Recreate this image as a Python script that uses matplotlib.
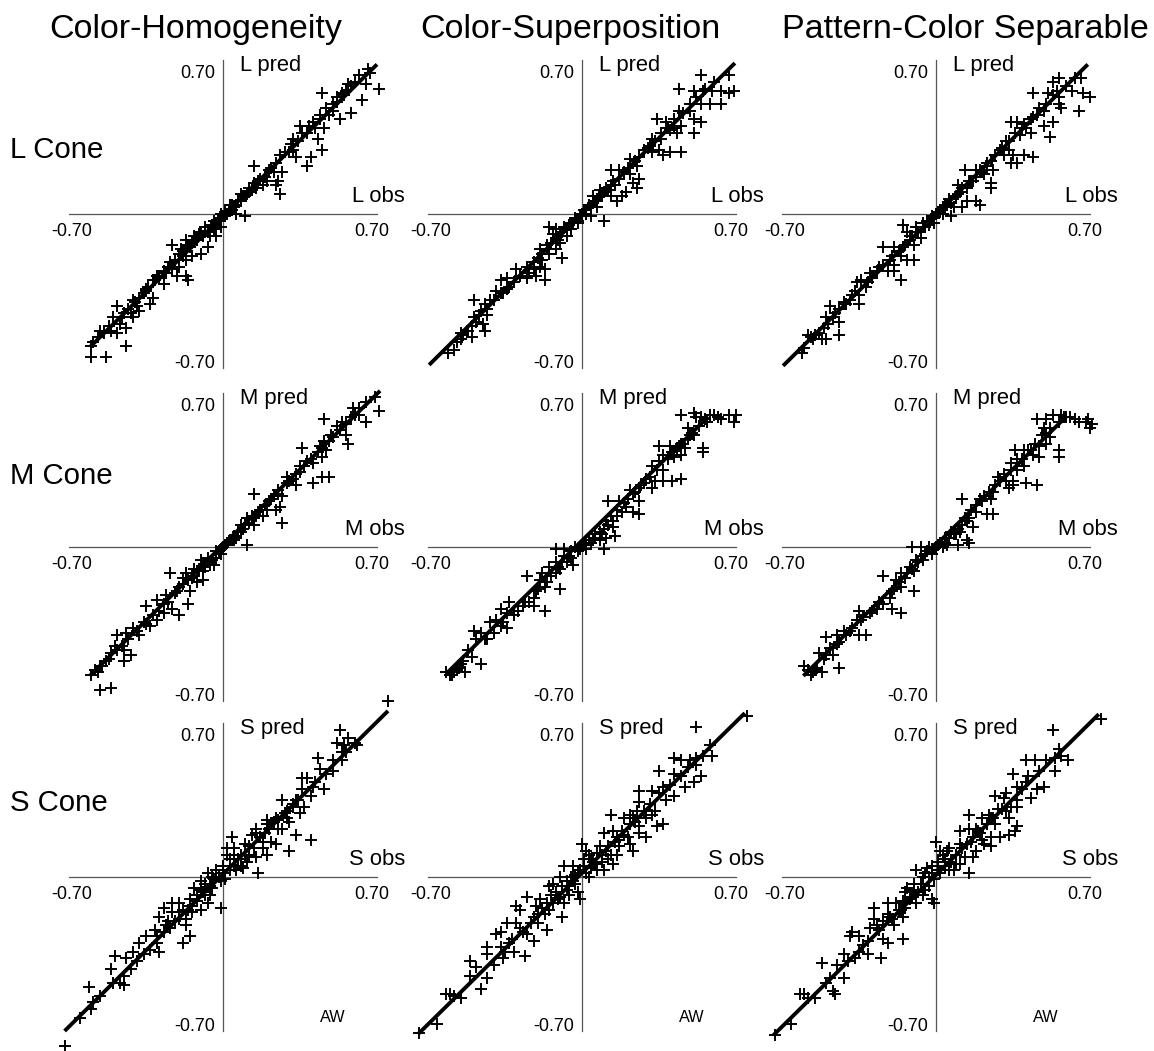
import numpy as np
import matplotlib
matplotlib.use("Agg")
import matplotlib.pyplot as plt

plt.rcParams['font.family'] = ['Liberation Sans', 'DejaVu Sans']

# observed vs predicted cone contrast, one list of (obs, pred) per cone/model
MODELS = ["Color-Homogeneity", "Color-Superposition", "Pattern-Color Separable"]
CONES = ["L", "M", "S"]

l_homog = [
    (0.67, 0.64), (0.65, 0.59), (0.71, 0.57), (0.63, 0.52), (0.57, 0.59), (0.56, 0.56), (0.55, 0.54),
    (0.52, 0.53), (0.45, 0.55), (0.58, 0.46), (0.53, 0.43), (0.50, 0.47), (0.48, 0.45), (0.44, 0.43),
    (0.46, 0.39), (0.42, 0.39), (0.35, 0.40), (0.38, 0.37), (0.43, 0.34), (0.45, 0.29), (0.40, 0.26),
    (0.38, 0.22), (0.32, 0.34), (0.32, 0.29), (0.33, 0.26), (0.30, 0.28), (0.26, 0.27), (0.14, 0.22),
    (0.27, 0.19), (0.25, 0.15), (0.26, 0.09), (0.24, 0.13), (0.20, 0.15), (0.18, 0.13), (0.15, 0.12),
    (0.12, 0.10), (0.10, 0.08), (0.08, 0.09), (0.10, -0.01), (0.06, 0.00), (0.05, 0.03), (0.03, 0.02),
    (0.01, 0.01), (-0.01, -0.02), (-0.03, -0.04), (0.07, 0.06), (0.12, 0.12), (0.16, 0.15), (0.21, 0.20),
    (0.28, 0.28), (0.31, 0.32), (0.36, 0.37), (0.41, 0.42), (0.50, 0.50), (0.54, 0.55), (0.60, 0.60),
    (0.62, 0.63), (0.66, 0.66),
    (-0.01, -0.06), (-0.04, -0.07), (-0.06, -0.10), (-0.03, -0.10), (-0.10, -0.08), (-0.13, -0.10),
    (-0.17, -0.12), (-0.23, -0.14), (-0.19, -0.16), (-0.14, -0.19), (-0.17, -0.21), (-0.10, -0.18),
    (-0.07, -0.15), (-0.20, -0.24), (-0.23, -0.25), (-0.26, -0.27), (-0.30, -0.28), (-0.32, -0.30),
    (-0.27, -0.32), (-0.21, -0.28), (-0.17, -0.28), (-0.16, -0.30), (-0.35, -0.34), (-0.36, -0.36),
    (-0.32, -0.38), (-0.41, -0.39), (-0.39, -0.42), (-0.42, -0.45), (-0.48, -0.42), (-0.50, -0.47),
    (-0.47, -0.50), (-0.44, -0.52), (-0.38, -0.44), (-0.41, -0.47), (-0.33, -0.41), (-0.51, -0.53),
    (-0.54, -0.54), (-0.57, -0.56), (-0.60, -0.60), (-0.59, -0.58), (-0.44, -0.60), (-0.60, -0.65),
    (-0.53, -0.65), (-0.56, -0.53), (-0.48, -0.54), (-0.05, -0.05), (-0.08, -0.08), (-0.12, -0.11),
    (-0.15, -0.15), (-0.18, -0.19), (-0.22, -0.21), (-0.25, -0.24), (-0.29, -0.29), (-0.34, -0.33),
    (-0.38, -0.38), (-0.45, -0.45), (-0.52, -0.51), (-0.02, -0.03), (0.02, 0.00), (0.04, 0.04),
]
l_homog_core = [
    (-0.20, -0.18), (-0.18, -0.17), (-0.16, -0.14), (-0.14, -0.13), (-0.12, -0.12), (-0.11, -0.09),
    (-0.09, -0.10), (-0.08, -0.06), (-0.07, -0.08), (-0.05, -0.06), (-0.04, -0.03), (-0.03, -0.05),
    (-0.01, 0.00), (0.00, -0.01), (0.01, -0.01), (0.03, 0.04), (0.04, 0.02), (0.06, 0.04), (0.08, 0.06),
    (0.09, 0.08), (0.11, 0.09), (0.13, 0.11), (0.14, 0.14), (0.17, 0.16), (0.19, 0.17), (0.22, 0.21),
    (0.24, 0.23), (0.23, 0.19), (-0.24, -0.22), (-0.27, -0.26), (-0.31, -0.30), (-0.35, -0.35),
    (-0.40, -0.40), (-0.43, -0.43), (-0.46, -0.47), (0.34, 0.33), (0.39, 0.40), (0.44, 0.45),
    (0.47, 0.48), (0.52, 0.51), (0.58, 0.58),
]

l_super = [
    (0.54, 0.63), (0.67, 0.63), (0.63, 0.56), (0.69, 0.56), (0.67, 0.55), (0.59, 0.56), (0.55, 0.56),
    (0.51, 0.56), (0.44, 0.57), (0.54, 0.50), (0.63, 0.50), (0.58, 0.50), (0.49, 0.47), (0.44, 0.47),
    (0.51, 0.43), (0.54, 0.42), (0.51, 0.37), (0.45, 0.40), (0.42, 0.39), (0.38, 0.42), (0.34, 0.43),
    (0.40, 0.38), (0.43, 0.37), (0.32, 0.34), (0.36, 0.34), (0.31, 0.31), (0.32, 0.28), (0.37, 0.27),
    (0.35, 0.29), (0.40, 0.28), (0.45, 0.28), (0.26, 0.26), (0.25, 0.22), (0.22, 0.25), (0.13, 0.20),
    (0.17, 0.20), (0.22, 0.18), (0.23, 0.14), (0.25, 0.12), (0.26, 0.16), (0.18, 0.08), (0.16, 0.06),
    (0.20, 0.10), (0.13, 0.08), (0.09, 0.09), (0.08, 0.11), (0.11, 0.12), (0.05, 0.08), (0.07, 0.03),
    (0.10, -0.03), (0.04, -0.01), (0.02, 0.02), (0.00, 0.00), (0.03, 0.04), (0.06, 0.06), (0.14, 0.15),
    (0.19, 0.19), (0.28, 0.29), (0.46, 0.46), (0.52, 0.53), (0.60, 0.60), (0.39, 0.39),
    (-0.02, -0.03), (-0.05, -0.04), (-0.08, -0.06), (-0.12, -0.07), (-0.15, -0.06), (-0.13, -0.09),
    (-0.07, -0.10), (-0.10, -0.13), (-0.16, -0.14), (-0.19, -0.16), (-0.12, -0.16), (-0.09, -0.20),
    (-0.15, -0.18), (-0.18, -0.21), (-0.19, -0.24), (-0.22, -0.25), (-0.24, -0.27), (-0.17, -0.25),
    (-0.17, -0.30), (-0.21, -0.28), (-0.25, -0.29), (-0.30, -0.25), (-0.34, -0.29), (-0.37, -0.30),
    (-0.33, -0.33), (-0.36, -0.36), (-0.39, -0.35), (-0.42, -0.39), (-0.44, -0.41), (-0.46, -0.44),
    (-0.43, -0.46), (-0.49, -0.39), (-0.49, -0.47), (-0.45, -0.50), (-0.48, -0.49), (-0.44, -0.53),
    (-0.52, -0.53), (-0.54, -0.55), (-0.50, -0.56), (-0.55, -0.57), (-0.58, -0.62), (-0.61, -0.63),
    (-0.55, -0.54), (-0.04, -0.04), (-0.07, -0.07), (-0.10, -0.10), (-0.14, -0.13), (-0.20, -0.20),
    (-0.28, -0.28), (-0.31, -0.31), (-0.40, -0.39), (-0.01, -0.01),
]
l_super_core = [
    (-0.22, -0.22), (-0.18, -0.18), (-0.16, -0.16), (-0.12, -0.11), (-0.11, -0.12), (-0.09, -0.08),
    (-0.06, -0.05), (-0.05, -0.07), (-0.03, -0.02), (-0.02, -0.04), (0.01, 0.02), (0.02, 0.00),
    (0.04, 0.03), (0.05, 0.05), (0.07, 0.06), (0.08, 0.08), (0.10, 0.10), (0.12, 0.11), (0.13, 0.13),
    (0.15, 0.13), (0.17, 0.16), (0.21, 0.21), (0.24, 0.24), (0.30, 0.30), (0.33, 0.33), (0.36, 0.37),
    (0.42, 0.43), (0.49, 0.50), (0.56, 0.57), (-0.25, -0.24), (-0.34, -0.34), (-0.37, -0.36),
    (-0.43, -0.43), (-0.47, -0.46), (-0.50, -0.51), (-0.57, -0.58),
]

l_separ = [
    (0.56, 0.62), (0.53, 0.60), (0.66, 0.62), (0.44, 0.55), (0.51, 0.55), (0.53, 0.54), (0.56, 0.53),
    (0.62, 0.56), (0.67, 0.55), (0.70, 0.53), (0.56, 0.50), (0.57, 0.48), (0.65, 0.47), (0.49, 0.47),
    (0.46, 0.45), (0.44, 0.44), (0.40, 0.41), (0.37, 0.42), (0.34, 0.42), (0.41, 0.39), (0.43, 0.37),
    (0.53, 0.42), (0.52, 0.35), (0.49, 0.40), (0.38, 0.36), (0.32, 0.33), (0.29, 0.29), (0.33, 0.29),
    (0.31, 0.27), (0.35, 0.27), (0.40, 0.27), (0.44, 0.26), (0.37, 0.23), (0.34, 0.23), (0.25, 0.24),
    (0.26, 0.20), (0.23, 0.23), (0.13, 0.20), (0.18, 0.20), (0.22, 0.18), (0.17, 0.15), (0.25, 0.14),
    (0.25, 0.12), (0.18, 0.06), (0.20, 0.04), (0.14, 0.06), (0.12, 0.03), (0.08, 0.03), (0.07, -0.01),
    (0.03, 0.00), (0.11, 0.10), (0.10, 0.13), (0.01, 0.01), (0.04, 0.04), (0.06, 0.07), (0.15, 0.15),
    (0.20, 0.20), (0.27, 0.27), (0.36, 0.37), (0.47, 0.48), (0.59, 0.58), (0.63, 0.62),
    (-0.03, -0.05), (-0.06, -0.06), (-0.09, -0.06), (-0.15, -0.05), (-0.13, -0.08), (-0.07, -0.11),
    (-0.10, -0.14), (-0.15, -0.15), (-0.19, -0.15), (-0.24, -0.15), (-0.16, -0.19), (-0.10, -0.21),
    (-0.13, -0.21), (-0.19, -0.23), (-0.22, -0.26), (-0.19, -0.26), (-0.16, -0.30), (-0.27, -0.26),
    (-0.30, -0.27), (-0.34, -0.30), (-0.36, -0.31), (-0.32, -0.33), (-0.35, -0.37), (-0.38, -0.37),
    (-0.42, -0.40), (-0.44, -0.43), (-0.48, -0.42), (-0.35, -0.41), (-0.47, -0.47), (-0.44, -0.49),
    (-0.44, -0.55), (-0.50, -0.47), (-0.51, -0.52), (-0.53, -0.54), (-0.55, -0.55), (-0.58, -0.55),
    (-0.57, -0.56), (-0.52, -0.57), (-0.50, -0.57), (-0.60, -0.61), (-0.61, -0.63), (-0.01, -0.02),
    (-0.04, -0.03), (-0.11, -0.10), (-0.20, -0.19), (-0.26, -0.24), (-0.29, -0.29), (-0.39, -0.39),
    (-0.12, -0.12),
]
l_separ_core = [
    (-0.21, -0.21), (-0.17, -0.17), (-0.14, -0.14), (-0.12, -0.10), (-0.08, -0.08), (-0.06, -0.04),
    (-0.05, -0.06), (-0.02, -0.01), (-0.01, -0.04), (0.00, 0.00), (0.02, 0.01), (0.03, 0.03),
    (0.05, 0.04), (0.07, 0.05), (0.09, 0.08), (0.10, 0.09), (0.12, 0.12), (0.14, 0.12), (0.16, 0.15),
    (0.18, 0.17), (0.21, 0.19), (0.23, 0.22), (0.30, 0.30), (0.33, 0.33), (0.39, 0.39), (0.43, 0.43),
    (0.50, 0.50), (0.55, 0.56), (-0.24, -0.23), (-0.31, -0.31), (-0.37, -0.35), (-0.41, -0.41),
    (-0.46, -0.45), (-0.49, -0.50), (-0.56, -0.57),
]

m_homog = [
    (0.69, 0.68), (0.71, 0.62), (0.59, 0.63), (0.62, 0.60), (0.65, 0.57), (0.58, 0.59), (0.54, 0.57),
    (0.46, 0.58), (0.52, 0.55), (0.56, 0.51), (0.57, 0.47), (0.49, 0.51), (0.46, 0.48), (0.44, 0.46),
    (0.47, 0.44), (0.45, 0.41), (0.36, 0.45), (0.38, 0.39), (0.35, 0.37), (0.41, 0.38), (0.48, 0.32),
    (0.45, 0.32), (0.41, 0.29), (0.35, 0.34), (0.32, 0.31), (0.29, 0.32), (0.33, 0.28), (0.29, 0.29),
    (0.25, 0.26), (0.27, 0.23), (0.14, 0.24), (0.23, 0.23), (0.26, 0.18), (0.24, 0.17), (0.20, 0.17),
    (0.27, 0.11), (0.18, 0.14), (0.14, 0.13), (0.11, 0.13), (0.14, 0.10), (0.08, 0.10), (0.08, 0.07),
    (0.11, 0.01), (0.06, 0.04), (0.05, 0.05), (0.01, 0.01), (0.03, 0.03), (0.16, 0.16), (0.21, 0.21),
    (0.30, 0.30), (0.40, 0.40), (0.43, 0.43), (0.50, 0.50), (0.53, 0.53), (0.60, 0.60), (0.65, 0.66),
    (-0.01, -0.03), (-0.03, -0.05), (-0.04, -0.08), (-0.10, -0.06), (-0.06, -0.08), (-0.09, -0.11),
    (-0.13, -0.10), (-0.17, -0.12), (-0.24, -0.12), (-0.18, -0.14), (-0.12, -0.16), (-0.15, -0.20),
    (-0.09, -0.15), (-0.20, -0.18), (-0.26, -0.22), (-0.30, -0.24), (-0.35, -0.27), (-0.27, -0.30),
    (-0.23, -0.28), (-0.20, -0.31), (-0.16, -0.26), (-0.30, -0.33), (-0.33, -0.36), (-0.36, -0.34),
    (-0.41, -0.37), (-0.38, -0.40), (-0.44, -0.39), (-0.48, -0.40), (-0.49, -0.45), (-0.45, -0.47),
    (-0.42, -0.49), (-0.45, -0.52), (-0.51, -0.48), (-0.53, -0.52), (-0.56, -0.54), (-0.57, -0.57),
    (-0.60, -0.58), (-0.56, -0.65), (-0.51, -0.64), (-0.02, -0.02), (-0.07, -0.07), (-0.11, -0.10),
    (-0.14, -0.14), (-0.22, -0.21), (-0.25, -0.25), (-0.29, -0.29), (-0.39, -0.38), (-0.46, -0.45),
    (-0.52, -0.51), (-0.58, -0.56),
]
m_homog_core = [
    (-0.21, -0.20), (-0.18, -0.17), (-0.16, -0.15), (-0.13, -0.13), (-0.12, -0.11), (-0.08, -0.09),
    (-0.07, -0.05), (-0.05, -0.06), (-0.03, -0.02), (-0.01, -0.01), (0.00, 0.00), (0.02, 0.02),
    (0.04, 0.03), (0.05, 0.03), (0.07, 0.07), (0.09, 0.08), (0.10, 0.10), (0.12, 0.11), (0.13, 0.14),
    (0.15, 0.14), (0.17, 0.17), (0.19, 0.19), (0.22, 0.22), (0.25, 0.24), (0.33, 0.33), (0.37, 0.37),
    (0.45, 0.45), (0.48, 0.48), (0.56, 0.56), (0.62, 0.63), (-0.27, -0.26), (-0.32, -0.31),
    (-0.35, -0.35), (-0.43, -0.42), (-0.48, -0.47), (-0.55, -0.54),
]

m_super = [
    (0.45, 0.60), (0.51, 0.61), (0.54, 0.59), (0.58, 0.60), (0.62, 0.59), (0.67, 0.60), (0.70, 0.60),
    (0.69, 0.57), (0.63, 0.58), (0.56, 0.58), (0.52, 0.59), (0.48, 0.54), (0.50, 0.52), (0.48, 0.49),
    (0.51, 0.51), (0.44, 0.46), (0.47, 0.45), (0.35, 0.46), (0.40, 0.46), (0.45, 0.42), (0.42, 0.41),
    (0.37, 0.42), (0.55, 0.45), (0.55, 0.43), (0.35, 0.39), (0.32, 0.37), (0.37, 0.35), (0.29, 0.31),
    (0.33, 0.30), (0.32, 0.27), (0.37, 0.30), (0.41, 0.30), (0.45, 0.31), (0.26, 0.27), (0.22, 0.26),
    (0.23, 0.24), (0.17, 0.21), (0.12, 0.21), (0.26, 0.21), (0.20, 0.18), (0.23, 0.16), (0.26, 0.15),
    (0.16, 0.14), (0.11, 0.12), (0.14, 0.09), (0.10, 0.08), (0.15, 0.05), (0.11, 0.04), (0.08, 0.03),
    (0.10, -0.01), (0.04, 0.02), (0.02, -0.01), (0.01, 0.01), (0.03, 0.03), (0.06, 0.06), (0.13, 0.14),
    (0.19, 0.20), (0.28, 0.29), (0.34, 0.35), (0.41, 0.43), (0.45, 0.47), (0.53, 0.55),
    (-0.03, 0.00), (-0.08, -0.01), (-0.12, -0.01), (-0.08, -0.04), (-0.12, -0.07), (-0.15, -0.09),
    (-0.12, -0.12), (-0.10, -0.19), (-0.07, -0.07), (-0.04, -0.08), (-0.18, -0.12), (-0.19, -0.15),
    (-0.25, -0.13), (-0.21, -0.20), (-0.22, -0.23), (-0.24, -0.25), (-0.27, -0.27), (-0.22, -0.27),
    (-0.17, -0.29), (-0.33, -0.25), (-0.37, -0.28), (-0.34, -0.30), (-0.39, -0.33), (-0.37, -0.36),
    (-0.34, -0.37), (-0.42, -0.34), (-0.46, -0.39), (-0.43, -0.42), (-0.49, -0.38), (-0.48, -0.42),
    (-0.52, -0.47), (-0.50, -0.50), (-0.46, -0.53), (-0.55, -0.53), (-0.57, -0.56), (-0.62, -0.57),
    (-0.58, -0.57), (-0.53, -0.57), (-0.56, -0.55), (-0.01, -0.01), (-0.05, -0.05), (-0.10, -0.10),
    (-0.16, -0.16), (-0.29, -0.29), (-0.31, -0.31), (-0.40, -0.39), (-0.54, -0.52), (-0.60, -0.58),
    (-0.59, -0.58),
]
m_super_core = [
    (-0.20, -0.19), (-0.17, -0.18), (-0.14, -0.13), (-0.11, -0.09), (-0.09, -0.07), (-0.06, -0.04),
    (-0.05, -0.02), (-0.02, -0.02), (0.00, 0.01), (0.02, 0.01), (0.05, 0.03), (0.06, 0.04),
    (0.08, 0.07), (0.09, 0.06), (0.12, 0.10), (0.14, 0.12), (0.16, 0.17), (0.18, 0.16), (0.21, 0.22),
    (0.24, 0.25), (0.27, 0.28), (0.31, 0.32), (0.39, 0.40), (0.43, 0.45), (0.49, 0.51), (0.57, 0.57),
    (0.60, 0.60), (-0.26, -0.25), (-0.31, -0.29), (-0.36, -0.34), (-0.44, -0.42), (-0.57, -0.55),
]

m_separ = [
    (0.46, 0.58), (0.50, 0.58), (0.53, 0.60), (0.57, 0.60), (0.59, 0.59), (0.63, 0.58), (0.68, 0.57),
    (0.69, 0.58), (0.71, 0.56), (0.70, 0.54), (0.65, 0.57), (0.56, 0.57), (0.49, 0.54), (0.48, 0.51),
    (0.52, 0.50), (0.50, 0.47), (0.47, 0.46), (0.43, 0.44), (0.36, 0.44), (0.40, 0.44), (0.44, 0.42),
    (0.47, 0.41), (0.56, 0.44), (0.56, 0.41), (0.37, 0.40), (0.34, 0.38), (0.40, 0.37), (0.37, 0.35),
    (0.28, 0.32), (0.32, 0.30), (0.35, 0.30), (0.41, 0.29), (0.46, 0.28), (0.33, 0.27), (0.35, 0.28),
    (0.26, 0.25), (0.25, 0.22), (0.20, 0.22), (0.12, 0.22), (0.26, 0.15), (0.23, 0.15), (0.18, 0.16),
    (0.14, 0.12), (0.17, 0.09), (0.11, 0.07), (0.09, 0.06), (0.14, 0.03), (0.15, 0.02), (0.10, 0.01),
    (0.05, 0.01), (0.03, 0.00), (0.01, 0.01), (0.04, 0.04), (0.07, 0.07), (0.16, 0.17), (0.21, 0.21),
    (0.29, 0.30), (0.31, 0.33), (0.42, 0.44), (0.50, 0.52), (0.58, 0.59),
    (-0.03, 0.00), (-0.07, 0.00), (-0.11, 0.00), (-0.05, -0.03), (-0.09, -0.06), (-0.12, -0.09),
    (-0.10, -0.11), (-0.16, -0.12), (-0.24, -0.13), (-0.18, -0.15), (-0.16, -0.18), (-0.10, -0.20),
    (-0.21, -0.23), (-0.24, -0.26), (-0.27, -0.28), (-0.20, -0.28), (-0.16, -0.30), (-0.35, -0.29),
    (-0.33, -0.32), (-0.36, -0.33), (-0.38, -0.37), (-0.35, -0.40), (-0.32, -0.40), (-0.42, -0.38),
    (-0.45, -0.40), (-0.50, -0.41), (-0.44, -0.43), (-0.48, -0.46), (-0.47, -0.49), (-0.53, -0.48),
    (-0.51, -0.51), (-0.44, -0.55), (-0.60, -0.54), (-0.55, -0.56), (-0.57, -0.58), (-0.52, -0.57),
    (-0.01, -0.01), (-0.02, -0.03), (-0.06, -0.06), (-0.14, -0.14), (-0.20, -0.20), (-0.30, -0.30),
    (-0.39, -0.38), (-0.58, -0.56), (-0.56, -0.57), (-0.54, -0.55),
]
m_separ_core = [
    (-0.19, -0.19), (-0.17, -0.16), (-0.13, -0.12), (-0.11, -0.10), (-0.08, -0.07), (-0.07, -0.04),
    (-0.04, -0.02), (-0.02, -0.01), (0.00, 0.00), (0.02, 0.02), (0.04, 0.02), (0.06, 0.04),
    (0.08, 0.06), (0.10, 0.08), (0.12, 0.10), (0.13, 0.13), (0.15, 0.13), (0.18, 0.19), (0.22, 0.23),
    (0.24, 0.25), (0.27, 0.28), (0.34, 0.35), (0.39, 0.40), (0.45, 0.47), (0.52, 0.54), (0.61, 0.59),
    (-0.26, -0.25), (-0.29, -0.29), (-0.34, -0.33), (-0.41, -0.40), (-0.45, -0.44), (-0.50, -0.49),
]

s_homog = [
    (0.75, 0.80), (0.53, 0.67), (0.57, 0.63), (0.52, 0.61), (0.55, 0.60), (0.61, 0.60), (0.54, 0.57),
    (0.50, 0.53), (0.54, 0.53), (0.43, 0.54), (0.44, 0.49), (0.50, 0.48), (0.38, 0.45), (0.36, 0.45),
    (0.46, 0.40), (0.41, 0.41), (0.40, 0.37), (0.36, 0.40), (0.27, 0.35), (0.33, 0.35), (0.37, 0.32),
    (0.32, 0.32), (0.35, 0.29), (0.29, 0.27), (0.30, 0.25), (0.24, 0.27), (0.20, 0.26), (0.27, 0.22),
    (0.33, 0.19), (0.40, 0.17), (0.30, 0.12), (0.24, 0.15), (0.22, 0.16), (0.15, 0.22), (0.13, 0.19),
    (0.18, 0.16), (0.18, 0.13), (0.20, 0.10), (0.15, 0.09), (0.16, 0.02), (0.11, 0.07), (0.09, 0.04),
    (0.04, 0.18), (0.02, 0.13), (0.02, 0.10), (0.05, 0.13), (0.08, 0.10), (0.05, 0.05), (0.00, 0.02),
    (0.03, 0.03), (0.07, 0.08), (0.10, 0.10), (0.12, 0.14), (0.17, 0.18), (0.21, 0.22), (0.25, 0.26),
    (0.29, 0.30), (0.34, 0.35), (0.42, 0.43), (0.47, 0.47), (0.56, 0.57), (0.60, 0.61),
    (-0.03, 0.03), (-0.07, 0.02), (-0.04, -0.01), (-0.10, -0.02), (-0.13, -0.05), (-0.09, -0.07),
    (-0.01, -0.14), (-0.07, -0.12), (-0.10, -0.15), (-0.15, -0.13), (-0.20, -0.12), (-0.23, -0.12),
    (-0.27, -0.14), (-0.23, -0.16), (-0.17, -0.19), (-0.17, -0.22), (-0.15, -0.27), (-0.18, -0.30),
    (-0.26, -0.22), (-0.29, -0.18), (-0.31, -0.24), (-0.35, -0.27), (-0.30, -0.30), (-0.29, -0.34),
    (-0.38, -0.30), (-0.41, -0.34), (-0.44, -0.37), (-0.49, -0.36), (-0.51, -0.42), (-0.45, -0.45),
    (-0.45, -0.49), (-0.47, -0.48), (-0.50, -0.48), (-0.61, -0.50), (-0.56, -0.54), (-0.59, -0.57),
    (-0.65, -0.64), (-0.72, -0.77), (-0.01, -0.02), (-0.05, -0.05), (-0.08, -0.08), (-0.12, -0.11),
    (-0.16, -0.15), (-0.20, -0.19), (-0.24, -0.23), (-0.33, -0.33), (-0.39, -0.38), (-0.42, -0.42),
    (-0.60, -0.60), (-0.02, 0.00), (-0.06, -0.04),
]
s_homog_core = [
    (-0.05, 0.00), (0.00, 0.05), (0.03, 0.08), (-0.08, -0.03), (-0.10, -0.06), (0.05, 0.10),
    (0.08, 0.05), (-0.12, -0.08), (-0.15, -0.10), (-0.18, -0.15), (0.10, 0.15), (0.12, 0.10),
    (0.15, 0.20), (0.20, 0.24), (-0.20, -0.16), (-0.25, -0.20), (0.25, 0.22), (-0.30, -0.27),
    (-0.06, -0.08), (0.01, -0.01), (0.06, 0.03), (0.14, 0.13), (0.19, 0.20), (-0.14, -0.16),
    (-0.22, -0.20), (-0.27, -0.25), (0.23, 0.25), (0.28, 0.29), (0.32, 0.33), (-0.36, -0.35),
]

s_super = [
    (0.75, 0.73), (0.52, 0.68), (0.42, 0.54), (0.45, 0.53), (0.49, 0.53), (0.52, 0.54), (0.55, 0.55),
    (0.59, 0.55), (0.52, 0.51), (0.54, 0.46), (0.51, 0.43), (0.47, 0.41), (0.42, 0.37), (0.35, 0.48),
    (0.42, 0.47), (0.37, 0.41), (0.32, 0.39), (0.35, 0.38), (0.38, 0.35), (0.26, 0.39), (0.26, 0.34),
    (0.25, 0.30), (0.22, 0.28), (0.13, 0.28), (0.19, 0.27), (0.29, 0.27), (0.32, 0.28), (0.37, 0.24),
    (0.34, 0.23), (0.29, 0.18), (0.26, 0.20), (0.22, 0.24), (0.14, 0.21), (0.10, 0.20), (0.16, 0.18),
    (0.22, 0.15), (0.23, 0.12), (0.17, 0.14), (0.16, 0.10), (0.14, 0.06), (0.12, 0.08), (0.08, 0.14),
    (0.07, 0.11), (0.04, 0.08), (0.02, 0.12), (0.00, 0.15), (0.01, 0.05), (0.02, 0.02), (0.04, 0.04),
    (0.06, 0.06), (0.09, 0.10), (0.11, 0.12), (0.15, 0.16), (0.19, 0.19), (0.24, 0.25), (0.28, 0.30),
    (0.31, 0.33), (0.45, 0.46), (0.48, 0.50), (0.58, 0.60), (0.03, 0.00), (0.10, 0.03),
    (-0.04, 0.05), (-0.08, 0.05), (-0.10, 0.00), (-0.05, 0.00), (-0.13, -0.03), (-0.15, -0.04),
    (-0.02, -0.07), (-0.01, -0.10), (-0.07, -0.06), (-0.12, -0.07), (-0.08, -0.12), (-0.09, -0.18),
    (-0.16, -0.12), (-0.19, -0.10), (-0.21, -0.13), (-0.25, -0.09), (-0.30, -0.13), (-0.28, -0.15),
    (-0.22, -0.18), (-0.16, -0.24), (-0.22, -0.29), (-0.25, -0.26), (-0.30, -0.21), (-0.34, -0.21),
    (-0.37, -0.25), (-0.39, -0.26), (-0.33, -0.30), (-0.31, -0.34), (-0.26, -0.36), (-0.37, -0.32),
    (-0.43, -0.32), (-0.43, -0.35), (-0.51, -0.38), (-0.48, -0.41), (-0.46, -0.51), (-0.51, -0.45),
    (-0.43, -0.46), (-0.60, -0.53), (-0.58, -0.54), (-0.62, -0.53), (-0.66, -0.67), (-0.74, -0.71),
    (-0.03, -0.03), (-0.06, -0.04), (-0.10, -0.09), (-0.13, -0.12), (-0.17, -0.17), (-0.20, -0.21),
    (-0.27, -0.25), (-0.35, -0.34), (-0.40, -0.40), (-0.55, -0.55), (-0.02, 0.02), (-0.04, -0.02),
]
s_super_core = [
    (-0.01, 0.03), (0.01, 0.08), (-0.03, 0.01), (0.05, 0.07), (0.07, 0.03), (-0.07, -0.02),
    (-0.09, -0.04), (-0.11, -0.10), (-0.14, -0.08), (-0.18, -0.14), (-0.20, -0.17), (0.12, 0.14),
    (0.13, 0.10), (0.18, 0.21), (0.21, 0.18), (-0.23, -0.21), (-0.28, -0.23), (0.26, 0.23),
    (0.03, 0.10), (0.09, 0.07), (-0.06, -0.08), (-0.15, -0.15), (0.17, 0.17), (0.23, 0.27),
    (-0.32, -0.28), (0.33, 0.30), (-0.36, -0.37), (0.40, 0.42),
]

s_separ = [
    (0.75, 0.72), (0.53, 0.67), (0.41, 0.53), (0.45, 0.53), (0.50, 0.53), (0.54, 0.54), (0.57, 0.55),
    (0.60, 0.53), (0.54, 0.48), (0.35, 0.47), (0.42, 0.46), (0.49, 0.41), (0.46, 0.40), (0.43, 0.36),
    (0.37, 0.41), (0.32, 0.38), (0.27, 0.37), (0.31, 0.36), (0.37, 0.32), (0.37, 0.35), (0.34, 0.32),
    (0.28, 0.31), (0.15, 0.28), (0.21, 0.27), (0.25, 0.27), (0.33, 0.27), (0.37, 0.23), (0.36, 0.21),
    (0.33, 0.19), (0.29, 0.18), (0.25, 0.18), (0.11, 0.21), (0.15, 0.22), (0.19, 0.21), (0.22, 0.15),
    (0.25, 0.14), (0.18, 0.12), (0.17, 0.09), (0.11, 0.06), (0.15, 0.02), (0.08, 0.03), (0.05, 0.12),
    (0.00, 0.16), (0.03, 0.10), (0.06, 0.13), (0.02, 0.02), (0.04, 0.05), (0.07, 0.07), (0.09, 0.10),
    (0.12, 0.13), (0.14, 0.15), (0.17, 0.18), (0.20, 0.20), (0.23, 0.24), (0.26, 0.27), (0.30, 0.31),
    (0.39, 0.40), (0.47, 0.48), (0.56, 0.58), (0.01, 0.03),
    (-0.04, 0.04), (-0.09, 0.03), (-0.06, 0.00), (-0.03, 0.00), (-0.13, -0.05), (-0.10, -0.06),
    (-0.06, -0.08), (-0.02, -0.10), (-0.01, -0.12), (-0.09, -0.12), (-0.15, -0.11), (-0.18, -0.12),
    (-0.22, -0.12), (-0.28, -0.14), (-0.28, -0.19), (-0.22, -0.17), (-0.15, -0.18), (-0.19, -0.22),
    (-0.15, -0.28), (-0.22, -0.30), (-0.24, -0.28), (-0.30, -0.23), (-0.35, -0.27), (-0.38, -0.25),
    (-0.39, -0.27), (-0.42, -0.35), (-0.37, -0.37), (-0.31, -0.35), (-0.25, -0.37), (-0.45, -0.40),
    (-0.52, -0.39), (-0.48, -0.46), (-0.46, -0.53), (-0.47, -0.52), (-0.42, -0.46), (-0.60, -0.53),
    (-0.58, -0.55), (-0.62, -0.53), (-0.66, -0.67), (-0.73, -0.72), (-0.01, -0.01), (-0.03, -0.04),
    (-0.08, -0.07), (-0.12, -0.10), (-0.16, -0.15), (-0.20, -0.19), (-0.26, -0.24), (-0.33, -0.31),
    (-0.40, -0.38), (-0.50, -0.48), (-0.55, -0.55), (-0.02, 0.02),
]
s_separ_core = [
    (-0.02, 0.05), (0.01, 0.07), (-0.05, 0.02), (0.04, 0.08), (0.06, 0.03), (-0.07, -0.03),
    (-0.10, -0.03), (-0.11, -0.09), (-0.14, -0.07), (-0.17, -0.15), (-0.21, -0.18), (0.11, 0.15),
    (0.13, 0.09), (0.18, 0.22), (0.21, 0.17), (-0.24, -0.20), (-0.27, -0.22), (0.27, 0.24),
    (0.02, 0.12), (0.09, 0.06), (-0.05, -0.06), (-0.14, -0.14), (0.16, 0.16), (0.24, 0.28),
    (-0.31, -0.29), (0.32, 0.30), (-0.35, -0.34), (0.41, 0.43),
]

# fitted line end points (obs, pred) for each cone row, one entry per model
fit_start = {
    "L": [(-0.605, -0.605), (-0.695, -0.686), (-0.695, -0.69)],
    "M": [(-0.605, -0.585), (-0.615, -0.574), (-0.603, -0.586)],
    "S": [(-0.72, -0.70), (-0.745, -0.714), (-0.74, -0.72)],
}
fit_end = {
    "L": [(0.70, 0.68), (0.695, 0.686), (0.69, 0.68)],
    "M": [(0.714, 0.71), (0.574, 0.592), (0.594, 0.595)],
    "S": [(0.75, 0.755), (0.74, 0.745), (0.74, 0.74)],
}

points = {
    "L": [l_homog + l_homog_core, l_super + l_super_core, l_separ + l_separ_core],
    "M": [m_homog + m_homog_core, m_super + m_super_core, m_separ + m_separ_core],
    "S": [s_homog + s_homog_core, s_super + s_super_core, s_separ + s_separ_core],
}

AXIS_MAX = 0.70
W, H = 1154, 1051
PX_PER_UNIT = 220.0
LIM = 0.82
col_x = [223, 582, 936]
row_y = [214, 547, 877]
title_x = [196, 570, 965]
cone_y = [158, 484, 811]

fig = plt.figure(figsize=(W / 100, H / 100), dpi=100)

for c, name in enumerate(MODELS):
    fig.text(title_x[c] / W, 1 - 38 / H, name, ha="center", va="baseline", fontsize=24.5)

for r, cone in enumerate(CONES):
    fig.text(10 / W, 1 - cone_y[r] / H, f"{cone} Cone", ha="left", va="baseline", fontsize=21.2)

    for c in range(3):
        half = LIM * PX_PER_UNIT
        cx, cy = col_x[c], row_y[r]
        ax = fig.add_axes([(cx - half) / W, (H - cy - half) / H, 2 * half / W, 2 * half / H])
        ax.set_xlim(-LIM, LIM)
        ax.set_ylim(-LIM, LIM)
        ax.axis("off")
        ax.patch.set_alpha(0)

        # cross-shaped axes through the origin
        ax.plot([-AXIS_MAX, AXIS_MAX], [0, 0], color="#555555", lw=0.9)
        ax.plot([0, 0], [-AXIS_MAX, AXIS_MAX], color="#555555", lw=0.9)

        pts = np.array(points[cone][c])
        ax.plot(pts[:, 0], pts[:, 1], "+", color="black", ms=8.6, mew=1.4, clip_on=False)

        (x0, y0), (x1, y1) = fit_start[cone][c], fit_end[cone][c]
        ax.plot([x0, x1], [y0, y1], color="black", lw=2.8, solid_capstyle="butt", clip_on=False)

        # tick values and axis names
        ax.text(-0.035, 0.616, f"{AXIS_MAX:.2f}", ha="right", va="baseline", fontsize=13)
        ax.text(-0.035, -0.702, f"{-AXIS_MAX:.2f}", ha="right", va="baseline", fontsize=13)
        ax.text(-0.686, -0.102, f"{-AXIS_MAX:.2f}", ha="center", va="baseline", fontsize=13)
        ax.text(0.677, -0.102, f"{AXIS_MAX:.2f}", ha="center", va="baseline", fontsize=13)
        ax.text(0.077, 0.65, f"{cone} pred", ha="left", va="baseline", fontsize=15.8)
        ax.text(0.827, 0.056, f"{cone} obs", ha="right", va="baseline", fontsize=15.8)
        if cone == "S":
            ax.text(0.50, -0.66, "AW", ha="center", va="baseline", fontsize=11.7)

fig.savefig("out.png", dpi=100)
